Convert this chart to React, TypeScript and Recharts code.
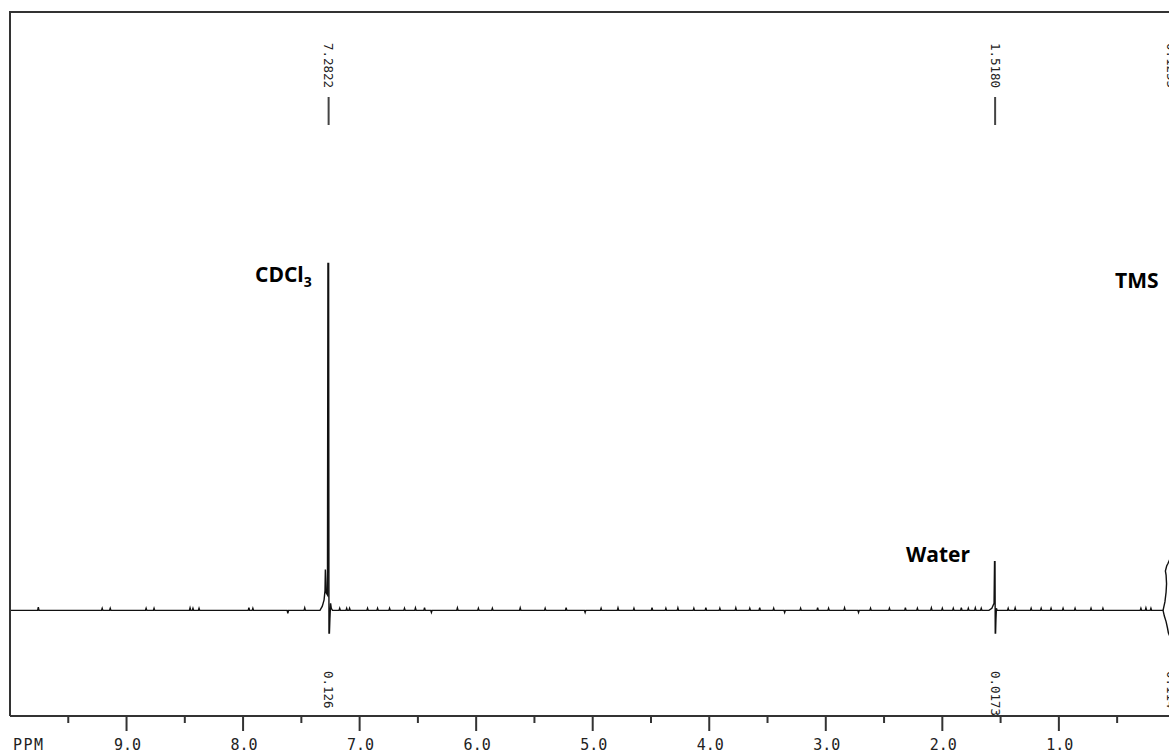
import React from 'react';
import { ComposedChart, Line, Scatter, XAxis, YAxis } from 'recharts';

// ppm positions of the axis ticks (halves get a short tick, integers a label)
const tickPpm = [9.5, 9, 8.5, 8, 7.5, 7, 6.5, 6, 5.5, 5, 4.5, 4, 3.5, 3, 2.5, 2, 1.5, 1, 0.5];

// small noise ticks on the baseline: [ppm, intensity]
const noiseTicks: [number, number][] = [
  [9.757, 0.45], [9.209, 0.3], [9.14, 0.3], [8.832, 0.3], [8.764, 0.3], [8.455, 0.35],
  [8.43, 0.3], [8.378, 0.3], [7.95, 0.4], [7.916, 0.3], [7.616, -0.4], [7.471, 0.35],
  [7.171, 0.3], [7.111, 0.3], [7.086, 0.3], [6.932, 0.3], [6.846, 0.3], [6.743, 0.3],
  [6.615, 0.3], [6.521, 0.35], [6.443, 0.4], [6.384, -0.3], [6.161, 0.35], [5.981, 0.3],
  [5.861, 0.3], [5.622, 0.35], [5.408, 0.3], [5.228, 0.4], [5.065, -0.3], [4.928, 0.3],
  [4.783, 0.35], [4.646, 0.3], [4.491, 0.4], [4.372, 0.3], [4.269, 0.35], [4.132, 0.3],
  [4.029, 0.4], [3.909, 0.3], [3.772, 0.35], [3.652, 0.3], [3.567, 0.4], [3.447, 0.3],
  [3.353, -0.3], [3.216, 0.3], [3.07, 0.4], [2.976, 0.3], [2.839, 0.35], [2.719, -0.3],
  [2.616, 0.3], [2.454, 0.3], [2.317, 0.4], [2.214, 0.3], [2.094, 0.35], [2.0, 0.3],
  [1.906, 0.3], [1.837, 0.4], [1.777, 0.3], [1.717, 0.35], [1.666, 0.3],
  [1.435, 0.3], [1.375, 0.35], [1.238, 0.3], [1.152, 0.3], [1.067, 0.3], [0.964, 0.3],
  [0.861, 0.3], [0.724, 0.3], [0.622, 0.3], [0.296, 0.3], [0.253, 0.35], [0.21, 0.3],
];

// CDCl3 solvent peak
const cdcl3Peak: [number, number][] = [
  [7.34, 0], [7.32, 0.6], [7.305, 1.5], [7.297, 2.8], [7.294, 5.8], [7.291, 4.5],
  [7.287, 2.5], [7.276, 2.2], [7.272, 49.3], [7.266, 49.3], [7.263, -3.2], [7.259, -3.2],
  [7.255, -1.2], [7.249, 1.0], [7.243, 0.3], [7.233, 0],
];

// water peak
const waterPeak: [number, number][] = [
  [1.6, 0], [1.575, 0.3], [1.562, 0.8], [1.556, 1.0], [1.552, 6.9], [1.548, 6.9],
  [1.546, -3.2], [1.543, -3.2], [1.54, -1.3], [1.536, 0.3], [1.53, 0],
];

// TMS, cut by the right edge: lower and upper branch
const tmsLower: [number, number][] = [
  [0.12, 0], [0.106, 0], [0.095, -0.8], [0.08, -1.6], [0.068, -2.5], [0.06, -3.2], [0.05, -3.6],
];
const tmsUpper: [number, number][] = [
  [0.106, 0], [0.09, 1.2], [0.08, 2.6], [0.076, 3.8], [0.08, 5.0], [0.086, 5.6],
  [0.075, 6.3], [0.063, 6.7], [0.05, 7.2],
];

const peakLabelPpm = [7.266, 1.547, 0.03];
const peakShiftText = ['7.2822', '1.5180', '0.1255'];
const integralText = ['0.126', '0.0173', '0.114'];

const toPts = (arr: [number, number][]) => arr.map(([ppm, y]) => ({ ppm, y }));

const spectrum = [
  { ppm: 10, y: 0 },
  ...noiseTicks.flatMap(([ppm, y]) => [
    { ppm: ppm + 0.006, y: 0 },
    { ppm, y },
    { ppm: ppm - 0.006, y: 0 },
  ]),
  ...toPts(cdcl3Peak),
  ...toPts(waterPeak),
  ...toPts(tmsLower),
].sort((a, b) => b.ppm - a.ppm);

const tmsUpperPts = toPts(tmsUpper);

const peakMarks = peakLabelPpm.map((ppm, i) => ({
  ppm,
  y: 0,
  top: peakShiftText[i],
  bottom: integralText[i],
}));

const mono = '"DejaVu Sans Mono", monospace';
const bold = '"Open Sans", "Liberation Sans", sans-serif';

function PpmTick(props: any) {
  const { x, y, payload } = props;
  const v = payload.value as number;
  const major = Number.isInteger(v);
  return (
    <g>
      <line x1={x} x2={x} y1={y} y2={y + (major ? 15 : 7)} stroke="#333" strokeWidth={2} />
      {major && (
        <text x={x + 1} y={y + 34} textAnchor="middle" fontFamily={mono} fontSize={15} fill="#222">
          {v.toFixed(1)}
        </text>
      )}
    </g>
  );
}

function PeakMark(props: any) {
  const { cx, payload } = props;
  if (cx == null) return null;
  return (
    <g>
      <text
        transform={`rotate(90 ${cx} 43)`}
        x={cx}
        y={43}
        dominantBaseline="central"
        fontFamily={mono}
        fontSize={12.5}
        fill="#222"
      >
        {payload.top}
      </text>
      <line x1={cx} x2={cx} y1={97} y2={125} stroke="#444" strokeWidth={2} />
      <text
        transform={`rotate(90 ${cx} 671)`}
        x={cx}
        y={671}
        dominantBaseline="central"
        fontFamily={mono}
        fontSize={12.5}
        fill="#222"
      >
        {payload.bottom}
      </text>
    </g>
  );
}

export default function App() {
  return (
    <div style={{ position: 'absolute', left: 0, top: 0, width: 1169, height: 753, background: '#fff' }}>
      <ComposedChart width={1169} height={753} margin={{ top: 12, right: 0, bottom: 0, left: 10 }}>
        <XAxis
          xAxisId="ppm"
          type="number"
          dataKey="ppm"
          domain={[0.055, 10]}
          reversed
          allowDataOverflow
          ticks={tickPpm}
          interval={0}
          tickSize={0}
          tickMargin={0}
          tickLine={false}
          tick={(p: any) => <PpmTick {...p} />}
          axisLine={{ stroke: '#333', strokeWidth: 2 }}
          height={37}
        />
        <YAxis type="number" domain={[-15, 85]} allowDataOverflow hide />
        <Line
          xAxisId="ppm"
          data={spectrum}
          dataKey="y"
          type="linear"
          stroke="#111"
          strokeWidth={1.4}
          dot={false}
          isAnimationActive={false}
        />
        <Line
          xAxisId="ppm"
          data={tmsUpperPts}
          dataKey="y"
          type="linear"
          stroke="#111"
          strokeWidth={1.4}
          dot={false}
          isAnimationActive={false}
        />
        <Scatter
          xAxisId="ppm"
          data={peakMarks}
          dataKey="y"
          shape={(p: any) => <PeakMark {...p} />}
          isAnimationActive={false}
        />
      </ComposedChart>
      <svg
        width={1169}
        height={753}
        style={{ position: 'absolute', left: 0, top: 0, pointerEvents: 'none' }}
      >
        {/* frame: top and left border */}
        <path d="M10 716 V12 H1169" fill="none" stroke="#333" strokeWidth={2} />
        <text x={13} y={750} fontFamily={mono} fontSize={15} fill="#222" letterSpacing={1.5}>
          PPM
        </text>
        <text x={255} y={282} fontFamily={bold} fontWeight={700} fontSize={21} fill="#000">
          CDCl<tspan fontSize={14} dy={5}>3</tspan>
        </text>
        <text x={906} y={562} fontFamily={bold} fontWeight={700} fontSize={21} fill="#000">
          Water
        </text>
        <text x={1115} y={288} fontFamily={bold} fontWeight={700} fontSize={21} fill="#000">
          TMS
        </text>
      </svg>
    </div>
  );
}
